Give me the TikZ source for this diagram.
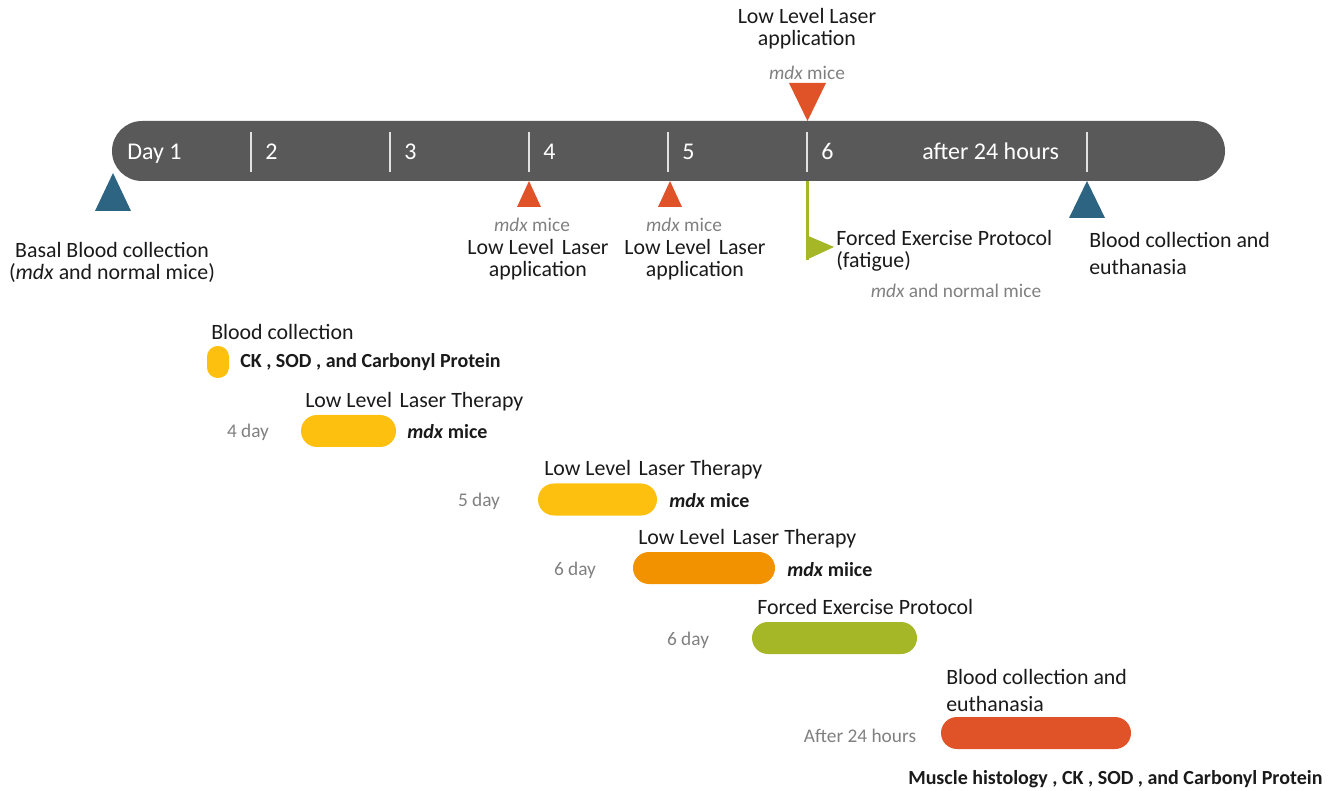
\documentclass[tikz,border=0pt]{standalone}
\usepackage{fontspec}
\setmainfont{Carlito}
\definecolor{barc}{RGB}{89,89,89}
\definecolor{tblue}{RGB}{45,100,130}
\definecolor{tred}{RGB}{224,82,40}
\definecolor{tyel}{RGB}{253,192,14}
\definecolor{torange}{RGB}{243,146,0}
\definecolor{tgreen}{RGB}{165,183,38}
\definecolor{tgray}{RGB}{128,128,128}
\definecolor{ttext}{RGB}{26,26,26}
\definecolor{tick}{RGB}{225,225,225}
\newcommand{\LL}{Low Level\hspace{0.35em}Laser}
\begin{document}
\begin{tikzpicture}[x=0.75pt,y=-0.75pt,
  lbl/.style={font=\fontsize{16.4}{16.5}\selectfont, text=ttext, inner sep=0pt, align=left},
  lblc/.style={lbl, align=center},
  wide/.style={font=\fontsize{16.4}{20.25}\selectfont},
  glbl/.style={font=\fontsize{14.5}{16}\selectfont, text=tgray, inner sep=0pt},
  blbl/.style={font=\fontsize{15}{17}\selectfont\bfseries, text=ttext, inner sep=0pt},
  daylbl/.style={font=\fontsize{18}{20}\selectfont, text=white, inner sep=0pt, anchor=base west},
  pill/.style={fill=#1, draw=none, minimum height=24pt, rounded corners=12pt, inner sep=0pt},
  tickline/.style={draw=tick, line width=1.5pt},
]
\useasboundingbox (0,0) rectangle (1339,791);

% timeline bar
\node[fill=barc, minimum width={1113*0.75pt}, minimum height=45pt, rounded corners=22.5pt, inner sep=0pt] (bar) at (668.5,151) {};
\foreach \x in {251,390,529,668,807,1087} \draw[tickline] (\x,132) -- (\x,172);
\node[daylbl] (d1) at (127,159.5) {Day 1};
\node[daylbl] (d2) at (265,159.5) {2};
\node[daylbl] (d3) at (404,159.5) {3};
\node[daylbl] (d4) at (543,159.5) {4};
\node[daylbl] (d5) at (682,159.5) {5};
\node[daylbl] (d6) at (821,159.5) {6};
\node[daylbl] (d7) at (922,159.5) {after 24 hours};

% markers
\fill[tblue] (113,173) -- (131,211) -- (95,211) -- cycle;
\fill[tred] (529,181) -- (541,207) -- (517,207) -- cycle;
\fill[tred] (670,181) -- (682,207) -- (658,207) -- cycle;
\fill[tred] (789,83) -- (826,83) -- (807.5,121) -- cycle;
\fill[tblue] (1087,181) -- (1105,218) -- (1069,218) -- cycle;
\coordinate (g0) at (807,181);
\coordinate (g1) at (807,260);
\draw[tgreen, line width=2.25pt] (g0) -- (g1);
\fill[tgreen] (806,235) -- (834,247) -- (806,260) -- cycle;

% upper labels
\node[lblc] (topl) at (807,29) {Low Level Laser\\application};
\node[glbl] (topm) at (807,73) {\textit{mdx} mice};
\node[glbl] (m4) at (532,225) {\textit{mdx} mice};
\node[lblc] (l4) at (538,260) {\LL\\application};
\node[glbl] (m5) at (684,225) {\textit{mdx} mice};
\node[lblc] (l5) at (695,260) {\LL\\application};
\node[lblc] (basal) at (112,262) {Basal Blood collection\\(\textit{mdx} and normal mice)};
\node[lbl, anchor=west] (fep) at (836,251) {Forced Exercise Protocol\\(fatigue)};
\node[glbl] (fepm) at (956,291) {\textit{mdx} and normal mice};
\node[lbl, wide, anchor=west] (bce) at (1089,253.5) {Blood collection and\\euthanasia};

% lower schedule
\node[lbl, anchor=west] (bc) at (211,332) {Blood collection};
\node[pill=tyel, minimum width=16.5pt, rounded corners=8pt] (p0) at (218,362) {};
\node[blbl, anchor=west] (bc2) at (240,362) {CK , SOD , and Carbonyl Protein};

\node[lbl, anchor=west] (t1) at (305,402) {\LL\ Therapy};
\node[glbl] (g1l) at (248,432) {4 day};
\node[pill=tyel, minimum width={95*0.75pt}] (p1) at (348.5,431) {};
\node[blbl, anchor=west] (m1) at (407,432) {\textit{mdx} mice};

\node[lbl, anchor=west] (t2) at (544,470) {\LL\ Therapy};
\node[glbl] (g2l) at (479,501) {5 day};
\node[pill=tyel, minimum width={119*0.75pt}] (p2) at (597.5,499.5) {};
\node[blbl, anchor=west] (m2) at (669,501) {\textit{mdx} mice};

\node[lbl, anchor=west] (t3) at (638,539) {\LL\ Therapy};
\node[glbl] (g3l) at (575,570) {6 day};
\node[pill=torange, minimum width={142*0.75pt}] (p3) at (704,568) {};
\node[blbl, anchor=west] (m3) at (787,570) {\textit{mdx} miice};

\node[lbl, anchor=west] (t4) at (757,607) {Forced Exercise Protocol};
\node[glbl] (g4l) at (688,640) {6 day};
\node[pill=tgreen, minimum width={165*0.75pt}] (p4) at (834.5,638) {};

\node[lbl, wide, anchor=west] (t5) at (946,690.5) {Blood collection and\\euthanasia};
\node[glbl] (g5l) at (860,736) {After 24 hours};
\node[pill=tred, minimum width={190*0.75pt}] (p5) at (1036,733) {};
\node[blbl, anchor=west] (m5b) at (908,779) {Muscle histology , CK , SOD , and Carbonyl Protein};
\end{tikzpicture}
\end{document}
